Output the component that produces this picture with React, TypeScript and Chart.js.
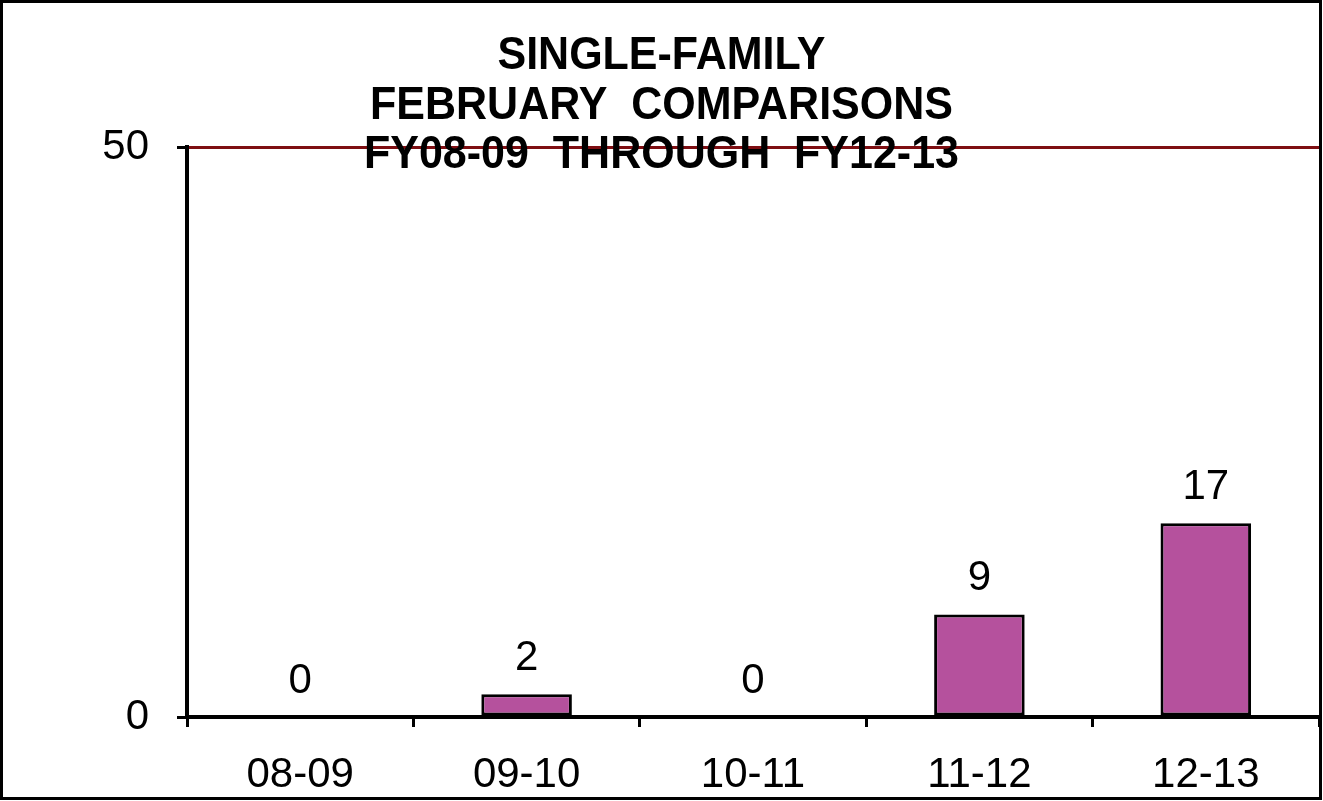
import React, { useEffect, useRef } from "react";
import { Chart, registerables } from "chart.js";

Chart.register(...registerables);

const categories: string[] = ["08-09", "09-10", "10-11", "11-12", "12-13"];
const values: number[] = [0, 2, 0, 9, 17];
const titleLines: string[] = [
  "SINGLE-FAMILY",
  "FEBRUARY  COMPARISONS",
  "FY08-09  THROUGH  FY12-13",
];
const yTicks: number[] = [0, 50];

const FONT = '"Liberation Sans", Arial, Helvetica, sans-serif';

export default function App() {
  const ref = useRef<HTMLCanvasElement | null>(null);

  useEffect(() => {
    document.body.style.margin = "0";
    const canvas = ref.current;
    if (!canvas) return;

    const framePlugin = {
      id: "frame",
      afterDraw(chart: any) {
        const ctx = chart.ctx;
        ctx.save();
        ctx.strokeStyle = "#000";
        ctx.lineWidth = 3;
        ctx.strokeRect(1.5, 1.5, 1319, 797);
        // title over the chart
        ctx.fillStyle = "#000";
        ctx.font = `bold 43px ${FONT}`;
        ctx.textAlign = "center";
        ctx.textBaseline = "alphabetic";
        const cx = chart.width / 2;
        const baselines = [69, 119, 168];
        titleLines.forEach((t, i) => {
          ctx.save();
          ctx.translate(cx, baselines[i]);
          ctx.scale(1, 1.06);
          ctx.fillText(t, 0, 0);
          ctx.restore();
        });
        ctx.restore();
      },
      afterDatasetsDraw(chart: any) {
        const ctx = chart.ctx;
        const meta = chart.getDatasetMeta(0);
        const yScale = chart.scales.y;
        ctx.save();
        ctx.fillStyle = "#000";
        ctx.font = `42px ${FONT}`;
        ctx.textAlign = "center";
        ctx.textBaseline = "alphabetic";
        meta.data.forEach((bar: any, i: number) => {
          const v = values[i];
          ctx.fillText(String(v), bar.x, yScale.getPixelForValue(v) - 24);
        });
        ctx.restore();
      },
    };

    const chart = new Chart(canvas, {
      type: "bar",
      data: {
        labels: categories,
        datasets: [
          {
            data: values,
            backgroundColor: "#B5519D",
            borderColor: "#000",
            borderWidth: 3,
            borderSkipped: false,
            barPercentage: 0.4,
            categoryPercentage: 1,
          },
        ],
      },
      options: {
        responsive: false,
        animation: false,
        layout: { padding: { top: 147, right: 4, bottom: 0, left: 0 } },
        plugins: {
          legend: { display: false },
          title: { display: false },
          tooltip: { enabled: false },
        },
        scales: {
          x: {
            afterFit(scale: any) {
              scale.height = 84;
            },
            grid: {
              display: true,
              drawOnChartArea: false,
              drawTicks: true,
              tickLength: 10,
              tickColor: "#000",
              tickWidth: 3,
              offset: true,
            },
            border: { display: true, color: "#000", width: 4 },
            ticks: {
              color: "#000",
              font: { family: FONT, size: 42 },
              padding: 23,
              maxRotation: 0,
            },
          },
          y: {
            min: 0,
            max: 50,
            afterFit(scale: any) {
              scale.width = 187;
            },
            afterBuildTicks(scale: any) {
              scale.ticks = yTicks.map((v) => ({ value: v }));
            },
            grid: {
              color: (c: any) => (c.tick && c.tick.value === 50 ? "#7E0E12" : "rgba(0,0,0,0)"),
              lineWidth: 3,
              tickLength: 10,
              tickColor: "#000",
              tickWidth: 3,
            },
            border: { display: true, color: "#000", width: 4 },
            ticks: {
              color: "#000",
              font: { family: FONT, size: 42 },
              padding: 28,
            },
          },
        },
      },
      plugins: [framePlugin],
    });

    return () => chart.destroy();
  }, []);

  return (
    <div style={{ position: "absolute", left: 0, top: 0, width: 1323, height: 801, background: "#fff" }}>
      <canvas ref={ref} width={1323} height={801} />
    </div>
  );
}
